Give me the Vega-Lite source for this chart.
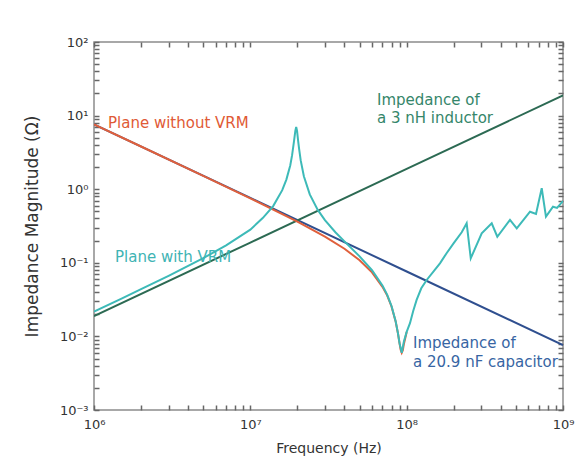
{
  "$schema": "https://vega.github.io/schema/vega-lite/v6.json",
  "width": 469,
  "height": 368,
  "autosize": {"type": "none"},
  "padding": {"left": 94, "top": 42, "right": 25, "bottom": 55},
  "background": "white",
  "config": {
    "view": {"stroke": "#8c8c8c", "strokeWidth": 1.5},
    "font": "DejaVu Sans",
    "axis": {"zindex": 1, "ticks": true, "tickOpacity": 1, "tickColor": "#666666", "tickWidth": 1.5, "tickSize": 5, "tickCap": "butt", "grid": false, "domain": false}
  },
  "datasets": {
    "capacitor": [
      {"f": 1e6, "z": 7.615}, {"f": 1e7, "z": 0.7615}, {"f": 1e8, "z": 0.07615}, {"f": 1e9, "z": 0.007615}
    ],
    "inductor": [
      {"f": 1e6, "z": 0.01885}, {"f": 1e7, "z": 0.1885}, {"f": 1e8, "z": 1.885}, {"f": 1e9, "z": 18.85}
    ],
    "noVrm": [
      {"f": 1e6, "z": 7.614}, {"f": 2e6, "z": 3.806}, {"f": 5e6, "z": 1.519}, {"f": 1e7, "z": 0.7527},
      {"f": 2e7, "z": 0.3632}, {"f": 3e7, "z": 0.2274}, {"f": 4e7, "z": 0.1552}, {"f": 5e7, "z": 0.1083},
      {"f": 6e7, "z": 0.0741}, {"f": 7e7, "z": 0.0472}, {"f": 7.5e7, "z": 0.0361}, {"f": 8e7, "z": 0.0255},
      {"f": 8.5e7, "z": 0.016}, {"f": 8.8e7, "z": 0.0109}, {"f": 9e7, "z": 0.0081}, {"f": 9.15e7, "z": 0.0066},
      {"f": 9.3e7, "z": 0.006}, {"f": 9.45e7, "z": 0.0065}, {"f": 9.6e7, "z": 0.0079}, {"f": 1e8, "z": 0.0115}
    ],
    "withVrm": [
      {"f": 1e6, "z": 0.0217}, {"f": 1.5e6, "z": 0.0327}, {"f": 2e6, "z": 0.0438}, {"f": 3e6, "z": 0.0665},
      {"f": 5e6, "z": 0.1156}, {"f": 7e6, "z": 0.1728}, {"f": 1e7, "z": 0.282}, {"f": 1.2e7, "z": 0.405},
      {"f": 1.4e7, "z": 0.59}, {"f": 1.6e7, "z": 0.97}, {"f": 1.7e7, "z": 1.35}, {"f": 1.8e7, "z": 2.1},
      {"f": 1.85e7, "z": 2.9}, {"f": 1.9e7, "z": 4.4}, {"f": 1.94e7, "z": 6.2}, {"f": 1.965e7, "z": 7.0},
      {"f": 1.99e7, "z": 6.2}, {"f": 2.02e7, "z": 4.6}, {"f": 2.05e7, "z": 3.56}, {"f": 2.1e7, "z": 2.46},
      {"f": 2.2e7, "z": 1.5}, {"f": 2.4e7, "z": 0.85}, {"f": 2.7e7, "z": 0.523}, {"f": 3e7, "z": 0.38},
      {"f": 3.5e7, "z": 0.2605}, {"f": 4e7, "z": 0.1954}, {"f": 5e7, "z": 0.1224}, {"f": 6e7, "z": 0.0793},
      {"f": 7e7, "z": 0.049}, {"f": 7.5e7, "z": 0.037}, {"f": 8e7, "z": 0.0259}, {"f": 8.5e7, "z": 0.0161},
      {"f": 8.8e7, "z": 0.011}, {"f": 9e7, "z": 0.0081}, {"f": 9.3e7, "z": 0.006}, {"f": 9.6e7, "z": 0.0085},
      {"f": 1e8, "z": 0.0115}, {"f": 1.05e8, "z": 0.0151}, {"f": 1.1e8, "z": 0.022}, {"f": 1.158e8, "z": 0.0313},
      {"f": 1.24e8, "z": 0.045}, {"f": 1.343e8, "z": 0.0584}, {"f": 1.5e8, "z": 0.078}, {"f": 1.633e8, "z": 0.0984},
      {"f": 1.8e8, "z": 0.135}, {"f": 2e8, "z": 0.185}, {"f": 2.25e8, "z": 0.26}, {"f": 2.42e8, "z": 0.344},
      {"f": 2.57e8, "z": 0.115}, {"f": 3.02e8, "z": 0.252}, {"f": 3.5e8, "z": 0.344}, {"f": 3.8e8, "z": 0.226},
      {"f": 4.58e8, "z": 0.382}, {"f": 5.06e8, "z": 0.294}, {"f": 6.15e8, "z": 0.494}, {"f": 6.72e8, "z": 0.46},
      {"f": 7.31e8, "z": 1.03}, {"f": 7.78e8, "z": 0.423}, {"f": 8.63e8, "z": 0.578}, {"f": 9.16e8, "z": 0.556},
      {"f": 1e9, "z": 0.69}
    ],
    "labels": [
      {"series": "noVrm", "text": "Plane without VRM", "f": 1.229e6, "z": 7.93},
      {"series": "inductor", "text": "Impedance of", "f": 6.46e7, "z": 16.3},
      {"series": "inductor", "text": "a 3 nH inductor", "f": 6.46e7, "z": 9.27},
      {"series": "withVrm", "text": "Plane with VRM", "f": 1.362e6, "z": 0.12},
      {"series": "capacitor", "text": "Impedance of", "f": 1.098e8, "z": 0.00813},
      {"series": "capacitor", "text": "a 20.9 nF capacitor", "f": 1.098e8, "z": 0.00449}
    ]
  },
  "layer": [
    {
      "data": {"name": "capacitor"},
      "mark": {"type": "line", "color": "#2f4f8f", "strokeWidth": 2, "clip": true},
      "encoding": {
        "x": {
          "field": "f", "type": "quantitative",
          "scale": {"type": "log", "domain": [1e6, 1e9], "nice": false},
          "axis": {
            "orient": "bottom", "offset": -5, "title": "Frequency (Hz)",
            "values": [1e6, 2e6, 3e6, 4e6, 5e6, 6e6, 7e6, 8e6, 9e6, 1e7, 2e7, 3e7, 4e7, 5e7, 6e7, 7e7, 8e7, 9e7, 1e8, 2e8, 3e8, 4e8, 5e8, 6e8, 7e8, 8e8, 9e8, 1e9],
            "labelExpr": "abs(log(datum.value)/LN10 - round(log(datum.value)/LN10)) < 0.001 ? '10' + (round(log(datum.value)/LN10) < 0 ? '⁻' : '') + ['⁰','¹','²','³','⁴','⁵','⁶','⁷','⁸','⁹'][abs(round(log(datum.value)/LN10))] : ''",
            "labelPadding": 8, "labelFontSize": 13, "labelColor": "#333333", "labelFlush": false, "labelOverlap": false,
            "titleFontSize": 14, "titleFontWeight": "normal", "titleColor": "#333333", "titlePadding": 10
          }
        },
        "y": {
          "field": "z", "type": "quantitative",
          "scale": {"type": "log", "domain": [0.001, 100], "nice": false},
          "axis": {
            "orient": "left", "offset": -5, "title": "Impedance Magnitude (Ω)",
            "values": [0.001, 0.002, 0.003, 0.004, 0.005, 0.006, 0.007, 0.008, 0.009, 0.01, 0.02, 0.03, 0.04, 0.05, 0.06, 0.07, 0.08, 0.09, 0.1, 0.2, 0.3, 0.4, 0.5, 0.6, 0.7, 0.8, 0.9, 1, 2, 3, 4, 5, 6, 7, 8, 9, 10, 20, 30, 40, 50, 60, 70, 80, 90, 100],
            "labelExpr": "abs(log(datum.value)/LN10 - round(log(datum.value)/LN10)) < 0.001 ? '10' + (round(log(datum.value)/LN10) < 0 ? '⁻' : '') + ['⁰','¹','²','³','⁴','⁵','⁶','⁷','⁸','⁹'][abs(round(log(datum.value)/LN10))] : ''",
            "labelPadding": 6, "labelFontSize": 13, "labelColor": "#333333", "labelFlush": false, "labelOverlap": false,
            "titleFontSize": 17, "titleFontWeight": "normal", "titleColor": "#333333", "titlePadding": 18
          }
        }
      }
    },
    {
      "data": {"name": "inductor"},
      "mark": {"type": "line", "color": "#2c6a53", "strokeWidth": 2, "clip": true},
      "encoding": {
        "x": {
          "field": "f", "type": "quantitative",
          "axis": {
            "orient": "top", "offset": -5, "title": null, "labels": false,
            "values": [1e6, 2e6, 3e6, 4e6, 5e6, 6e6, 7e6, 8e6, 9e6, 1e7, 2e7, 3e7, 4e7, 5e7, 6e7, 7e7, 8e7, 9e7, 1e8, 2e8, 3e8, 4e8, 5e8, 6e8, 7e8, 8e8, 9e8, 1e9]
          }
        },
        "y": {
          "field": "z", "type": "quantitative",
          "axis": {
            "orient": "right", "offset": -5, "title": null, "labels": false,
            "values": [0.001, 0.002, 0.003, 0.004, 0.005, 0.006, 0.007, 0.008, 0.009, 0.01, 0.02, 0.03, 0.04, 0.05, 0.06, 0.07, 0.08, 0.09, 0.1, 0.2, 0.3, 0.4, 0.5, 0.6, 0.7, 0.8, 0.9, 1, 2, 3, 4, 5, 6, 7, 8, 9, 10, 20, 30, 40, 50, 60, 70, 80, 90, 100]
          }
        }
      }
    },
    {
      "data": {"name": "noVrm"},
      "mark": {"type": "line", "color": "#e0603c", "strokeWidth": 2, "clip": true},
      "encoding": {
        "x": {"field": "f", "type": "quantitative", "axis": null},
        "y": {"field": "z", "type": "quantitative", "axis": null}
      }
    },
    {
      "data": {"name": "withVrm"},
      "mark": {"type": "line", "color": "#3dbab8", "strokeWidth": 2, "clip": true},
      "encoding": {
        "x": {"field": "f", "type": "quantitative", "axis": null},
        "y": {"field": "z", "type": "quantitative", "axis": null}
      }
    },
    {
      "data": {"name": "labels"},
      "transform": [{"filter": "datum.series === 'noVrm'"}],
      "mark": {"type": "text", "align": "left", "baseline": "middle", "fontSize": 15, "color": "#df5a36"},
      "encoding": {
        "x": {"field": "f", "type": "quantitative", "axis": null},
        "y": {"field": "z", "type": "quantitative", "axis": null},
        "text": {"field": "text"}
      }
    },
    {
      "data": {"name": "labels"},
      "transform": [{"filter": "datum.series === 'inductor'"}],
      "mark": {"type": "text", "align": "left", "baseline": "middle", "fontSize": 15, "color": "#35866a"},
      "encoding": {
        "x": {"field": "f", "type": "quantitative", "axis": null},
        "y": {"field": "z", "type": "quantitative", "axis": null},
        "text": {"field": "text"}
      }
    },
    {
      "data": {"name": "labels"},
      "transform": [{"filter": "datum.series === 'withVrm'"}],
      "mark": {"type": "text", "align": "left", "baseline": "middle", "fontSize": 15, "color": "#3fb4b4"},
      "encoding": {
        "x": {"field": "f", "type": "quantitative", "axis": null},
        "y": {"field": "z", "type": "quantitative", "axis": null},
        "text": {"field": "text"}
      }
    },
    {
      "data": {"name": "labels"},
      "transform": [{"filter": "datum.series === 'capacitor'"}],
      "mark": {"type": "text", "align": "left", "baseline": "middle", "fontSize": 15, "color": "#3765a3"},
      "encoding": {
        "x": {"field": "f", "type": "quantitative", "axis": null},
        "y": {"field": "z", "type": "quantitative", "axis": null},
        "text": {"field": "text"}
      }
    }
  ],
  "resolve": {"axis": {"x": "independent", "y": "independent"}}
}
